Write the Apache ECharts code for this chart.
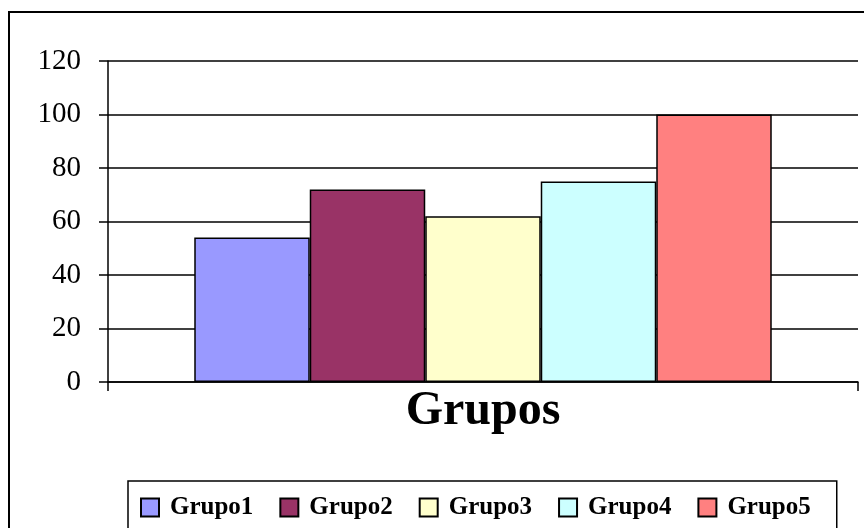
<!DOCTYPE html>
<html>
<head>
    <meta charset="utf-8">
    <title>Grupos</title>
    <style>
        html, body { margin: 0; padding: 0; background: #fff; }
        #main { width: 864px; height: 528px; }
    </style>
</head>
<body>
<div id="main"></div>
<script src="https://cdn.jsdelivr.net/npm/echarts@6/dist/echarts.min.js" type="text/javascript"></script>
<script type="text/javascript">

var categories = ['Grupos'];
var seriesNames = ['Grupo1', 'Grupo2', 'Grupo3', 'Grupo4', 'Grupo5'];
var seriesValues = [54, 72, 62, 75, 100];
var seriesColors = ['#9999FF', '#993366', '#FFFFCC', '#CCFFFF', '#FF8080'];
var yTicks = [0, 20, 40, 60, 80, 100, 120];

var serif = '"Liberation Serif", "DejaVu Serif", serif';

var myChart = echarts.init(document.getElementById('main'));

var series = [];
for (var i = 0; i < seriesNames.length; i++) {
    series.push({
        name: seriesNames[i],
        type: 'bar',
        data: [seriesValues[i]],
        barGap: '0%',
        barCategoryGap: '23%',
        itemStyle: {
            color: seriesColors[i],
            borderColor: '#000',
            borderWidth: 1.5
        }
    });
}

var option = {
    backgroundColor: '#fff',
    animation: false,
    graphic: [{
        type: 'rect',
        shape: { x: 9, y: 12, width: 900, height: 600 },
        style: { fill: 'none', stroke: '#000', lineWidth: 2 },
        silent: true
    }],
    grid: {
        left: 108,
        right: 6,
        top: 61,
        bottom: 146
    },
    legend: {
        data: seriesNames,
        left: 128,
        top: 481,
        width: 760,
        padding: [14, 26, 30, 12],
        itemGap: 26,
        itemWidth: 18,
        itemHeight: 18,
        icon: 'rect',
        borderColor: '#000',
        borderWidth: 1.5,
        textStyle: {
            fontFamily: serif,
            fontWeight: 'bold',
            fontSize: 25,
            color: '#000',
            padding: [0, 0, 0, 6]
        }
    },
    xAxis: {
        type: 'category',
        data: categories,
        axisLine: { lineStyle: { color: '#000', width: 1.5 } },
        axisTick: { show: true, length: 9, lineStyle: { color: '#000', width: 1.5 } },
        axisLabel: {
            margin: 6,
            fontFamily: serif,
            fontWeight: 'bold',
            fontSize: 48,
            color: '#000'
        }
    },
    yAxis: {
        type: 'value',
        min: yTicks[0],
        max: yTicks[yTicks.length - 1],
        interval: 20,
        axisLine: { show: true, lineStyle: { color: '#000', width: 1.5 } },
        axisTick: { show: true, length: 9, lineStyle: { color: '#000', width: 1.5 } },
        splitLine: { show: true, lineStyle: { color: '#000', width: 1.5 } },
        axisLabel: {
            margin: 27,
            fontFamily: serif,
            fontSize: 29,
            color: '#000'
        }
    },
    series: series
};

myChart.setOption(option);
</script>
</body>
</html>
